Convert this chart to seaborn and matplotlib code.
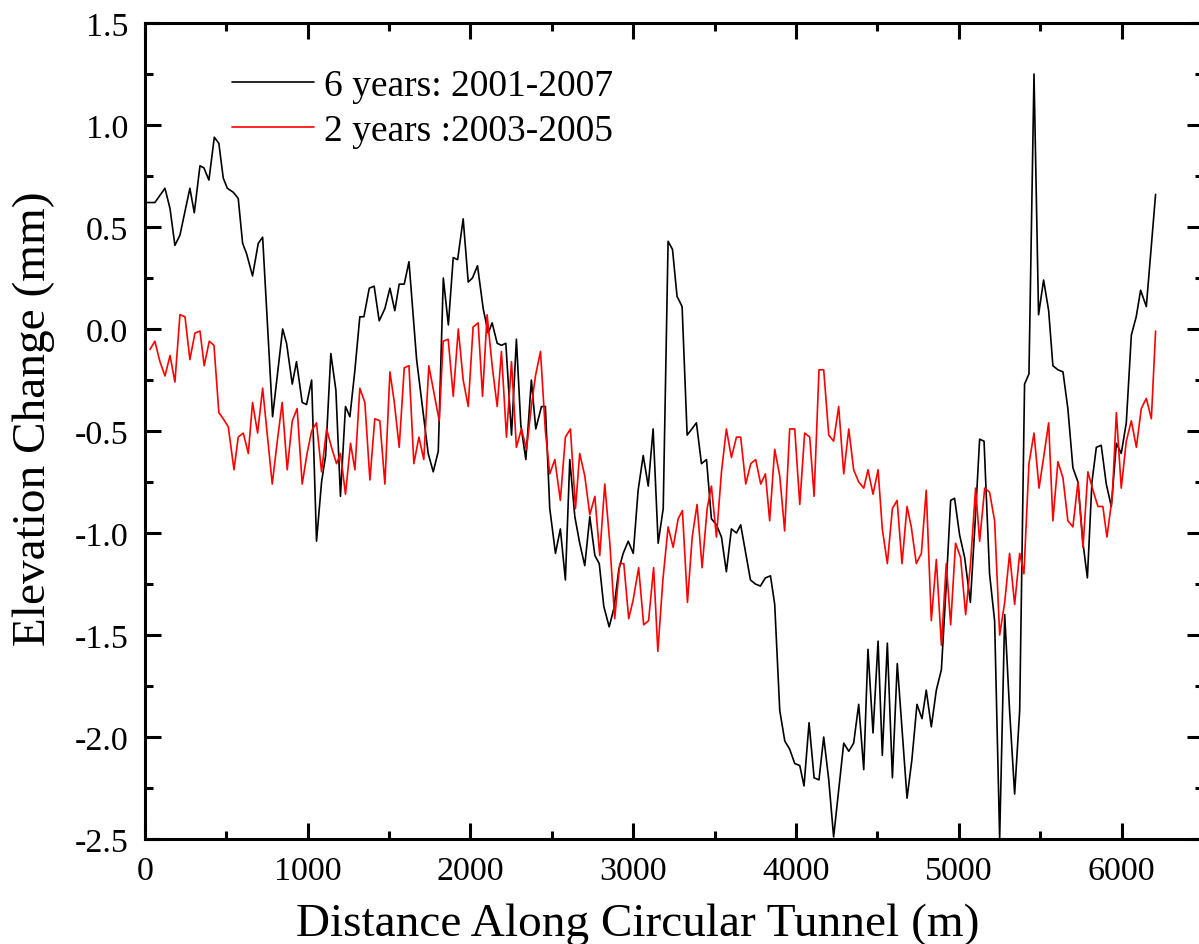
import matplotlib
matplotlib.use("Agg")
import matplotlib.pyplot as plt
import seaborn as sns
from matplotlib.ticker import MultipleLocator, AutoMinorLocator

# 6 years: 2001-2007 (black)
dist_6yr = [15, 31, 61, 123, 154, 184, 215, 276, 303, 338, 362, 393, 426, 454, 481, 506, 543, 573,
            600, 624, 661, 696, 723, 784, 846, 870, 905, 931, 966, 993, 1024, 1054, 1085, 1110,
            1142, 1173, 1201, 1232, 1259, 1290, 1320, 1345, 1378, 1408, 1439, 1474, 1505, 1535,
            1562, 1593, 1622, 1669, 1740, 1771, 1802, 1833, 1864, 1894, 1921, 1955, 1986, 2012,
            2043, 2078, 2109, 2133, 2164, 2190, 2217, 2252, 2282, 2309, 2340, 2374, 2401, 2436,
            2460, 2487, 2522, 2552, 2583, 2610, 2641, 2671, 2702, 2733, 2764, 2791, 2819, 2852,
            2881, 2911, 2938, 2969, 3000, 3030, 3061, 3092, 3122, 3153, 3184, 3214, 3241, 3269,
            3300, 3331, 3360, 3388, 3419, 3450, 3480, 3511, 3542, 3572, 3603, 3634, 3660, 3720,
            3750, 3781, 3812, 3843, 3869, 3900, 3931, 3961, 3992, 4023, 4049, 4080, 4111, 4141,
            4170, 4201, 4231, 4262, 4293, 4324, 4354, 4385, 4416, 4442, 4473, 4504, 4530, 4561,
            4592, 4622, 4651, 4682, 4712, 4743, 4774, 4800, 4831, 4862, 4893, 4923, 4950, 4974,
            5005, 5036, 5071, 5100, 5128, 5155, 5189, 5220, 5251, 5282, 5312, 5343, 5374, 5404,
            5431, 5462, 5490, 5521, 5552, 5578, 5609, 5640, 5670, 5701, 5732, 5763, 5790, 5818,
            5845, 5875, 5906, 5937, 5968, 5998, 6029, 6060, 6090, 6117, 6152, 6209]
elev_6yr = [0.62, 0.62, 0.62, 0.69, 0.59, 0.41, 0.46, 0.69, 0.57, 0.80, 0.79, 0.73, 0.94, 0.91,
            0.74, 0.69, 0.67, 0.64, 0.42, 0.37, 0.26, 0.42, 0.45, -0.43, 0.00, -0.07, -0.27, -0.16,
            -0.36, -0.37, -0.25, -1.04, -0.75, -0.62, -0.12, -0.30, -0.82, -0.38, -0.43, -0.20,
            0.06, 0.06, 0.20, 0.21, 0.04, 0.10, 0.20, 0.09, 0.22, 0.22, 0.33, -0.15, -0.61, -0.70,
            -0.60, 0.25, 0.02, 0.35, 0.34, 0.54, 0.23, 0.25, 0.31, 0.10, -0.02, 0.03, -0.07, -0.08,
            -0.07, -0.52, -0.05, -0.47, -0.64, -0.25, -0.49, -0.38, -0.38, -0.88, -1.10, -0.98,
            -1.23, -0.64, -0.92, -1.05, -1.16, -0.92, -1.11, -1.15, -1.36, -1.46, -1.37, -1.18,
            -1.10, -1.04, -1.10, -0.79, -0.62, -0.77, -0.49, -1.05, -0.88, 0.43, 0.39, 0.16, 0.11,
            -0.52, -0.49, -0.46, -0.66, -0.64, -0.93, -0.96, -1.02, -1.19, -0.98, -1.00, -0.96,
            -1.23, -1.25, -1.26, -1.22, -1.21, -1.35, -1.87, -2.02, -2.06, -2.13, -2.14, -2.24,
            -1.93, -2.20, -2.21, -2.00, -2.21, -2.49, -2.26, -2.03, -2.07, -2.03, -1.84, -2.16,
            -1.57, -1.98, -1.53, -2.09, -1.54, -2.20, -1.64, -1.96, -2.30, -2.11, -1.84, -1.91,
            -1.77, -1.95, -1.77, -1.67, -1.25, -0.84, -0.83, -1.01, -1.12, -1.34, -0.95, -0.54,
            -0.55, -1.20, -1.43, -2.50, -1.40, -1.87, -2.28, -1.87, -0.27, -0.22, 1.25, 0.07, 0.24,
            0.09, -0.18, -0.20, -0.21, -0.39, -0.68, -0.75, -1.05, -1.22, -0.75, -0.58, -0.57,
            -0.76, -0.87, -0.56, -0.61, -0.46, -0.03, 0.06, 0.19, 0.11, 0.66]

# 2 years: 2003-2005 (red)
dist_2yr = [31, 61, 92, 123, 154, 184, 215, 246, 276, 307, 338, 364, 395, 424, 454, 481, 512, 547,
            573, 604, 635, 661, 692, 723, 752, 782, 813, 843, 874, 905, 935, 966, 996, 1024, 1054,
            1085, 1116, 1146, 1177, 1201, 1232, 1263, 1290, 1320, 1351, 1382, 1412, 1443, 1474,
            1505, 1532, 1562, 1593, 1622, 1652, 1683, 1713, 1744, 1777, 1808, 1832, 1863, 1894,
            1925, 1955, 1986, 2016, 2047, 2074, 2102, 2133, 2164, 2190, 2221, 2252, 2282, 2313,
            2344, 2374, 2399, 2430, 2460, 2487, 2518, 2552, 2583, 2614, 2645, 2671, 2702, 2733,
            2764, 2794, 2825, 2856, 2886, 2917, 2942, 2972, 2999, 3033, 3064, 3094, 3125, 3151,
            3182, 3214, 3245, 3276, 3302, 3333, 3362, 3392, 3423, 3454, 3480, 3511, 3542, 3572,
            3603, 3634, 3660, 3691, 3722, 3752, 3783, 3812, 3838, 3869, 3900, 3930, 3961, 3992,
            4023, 4053, 4084, 4111, 4141, 4170, 4201, 4231, 4262, 4293, 4324, 4354, 4385, 4416,
            4442, 4473, 4504, 4530, 4561, 4592, 4621, 4651, 4682, 4708, 4739, 4770, 4800, 4831,
            4862, 4893, 4923, 4950, 4980, 5011, 5042, 5072, 5103, 5128, 5159, 5189, 5220, 5251,
            5282, 5312, 5343, 5374, 5400, 5431, 5462, 5493, 5521, 5552, 5578, 5609, 5640, 5670,
            5701, 5732, 5763, 5793, 5824, 5855, 5885, 5910, 5943, 5968, 5998, 6029, 6060, 6091,
            6121, 6152, 6183, 6209]
elev_2yr = [-0.10, -0.06, -0.16, -0.23, -0.13, -0.26, 0.07, 0.06, -0.15, -0.02, -0.01, -0.18,
            -0.06, -0.08, -0.41, -0.44, -0.48, -0.69, -0.53, -0.51, -0.61, -0.36, -0.51, -0.29,
            -0.52, -0.76, -0.55, -0.36, -0.69, -0.45, -0.39, -0.76, -0.61, -0.50, -0.46, -0.70,
            -0.49, -0.58, -0.66, -0.61, -0.81, -0.56, -0.69, -0.29, -0.36, -0.74, -0.44, -0.45,
            -0.76, -0.21, -0.36, -0.58, -0.19, -0.18, -0.66, -0.53, -0.64, -0.18, -0.32, -0.45,
            -0.06, -0.05, -0.33, 0.00, -0.25, -0.38, 0.01, 0.03, -0.33, 0.07, -0.18, -0.38, -0.11,
            -0.53, -0.16, -0.58, -0.49, -0.59, -0.38, -0.23, -0.11, -0.50, -0.71, -0.64, -0.84,
            -0.53, -0.49, -0.88, -0.61, -0.72, -0.91, -0.82, -1.11, -0.76, -1.05, -1.42, -1.15,
            -1.15, -1.42, -1.33, -1.17, -1.45, -1.43, -1.17, -1.58, -1.23, -0.97, -1.07, -0.93,
            -0.89, -1.34, -1.02, -0.86, -1.17, -0.88, -0.77, -1.02, -0.70, -0.49, -0.63, -0.53,
            -0.53, -0.76, -0.66, -0.64, -0.76, -0.71, -0.94, -0.59, -0.72, -0.99, -0.49, -0.49,
            -0.86, -0.51, -0.53, -0.82, -0.20, -0.20, -0.52, -0.55, -0.38, -0.71, -0.49, -0.69,
            -0.75, -0.78, -0.69, -0.81, -0.69, -0.98, -1.15, -0.88, -0.84, -1.15, -0.87, -0.97,
            -1.15, -1.10, -0.79, -1.43, -1.13, -1.55, -1.15, -1.45, -1.05, -1.12, -1.40, -1.15,
            -0.78, -1.04, -0.78, -0.80, -0.94, -1.50, -1.34, -1.10, -1.35, -1.10, -1.20, -0.66,
            -0.51, -0.78, -0.63, -0.46, -0.94, -0.65, -0.73, -0.94, -0.97, -0.75, -1.07, -0.70,
            -0.79, -0.87, -0.87, -1.02, -0.82, -0.41, -0.78, -0.55, -0.45, -0.58, -0.39, -0.34,
            -0.44, -0.01]

series_labels = ["6 years: 2001-2007", "2 years :2003-2005"]

sns.set_style("ticks")
plt.rcParams["font.family"] = ["Liberation Serif", "DejaVu Serif"]
plt.rcParams["axes.unicode_minus"] = False
for key in ["text.color", "axes.labelcolor", "xtick.color", "ytick.color", "axes.edgecolor"]:
    plt.rcParams[key] = "black"

fig = plt.figure(figsize=(11.99, 9.45), dpi=100)
ax = fig.add_axes([0.1209, 0.1111, 0.8824, 0.8635])

sns.lineplot(x=dist_6yr, y=elev_6yr, ax=ax, color="black", lw=1.2,
             label=series_labels[0], estimator=None, sort=False)
sns.lineplot(x=dist_2yr, y=elev_2yr, ax=ax, color="#ff0000", lw=1.2,
             label=series_labels[1], estimator=None, sort=False)

ax.set_xlim(0, 6500)
ax.set_ylim(-2.5, 1.5)
ax.xaxis.set_major_locator(MultipleLocator(1000))
ax.xaxis.set_minor_locator(AutoMinorLocator(2))
ax.yaxis.set_major_locator(MultipleLocator(0.5))
ax.yaxis.set_minor_locator(AutoMinorLocator(2))
ax.yaxis.set_major_formatter(matplotlib.ticker.FormatStrFormatter("%.1f"))

for s in ax.spines.values():
    s.set_linewidth(2.2)
    s.set_color("black")
    s.set_visible(True)
ax.tick_params(which="both", direction="in", top=True, right=True, width=2.2, colors="black")
ax.tick_params(which="major", length=11.5, labelsize=24.5, pad=12)
ax.tick_params(which="minor", length=5.8)

ax.set_xlabel("Distance Along Circular Tunnel (m)", fontsize=34)
ax.set_ylabel("Elevation Change (mm)", fontsize=34)
ax.xaxis.set_label_coords(0.466, -0.078)
ax.yaxis.set_label_coords(-0.085, 0.516)

ax.legend(loc="upper left", bbox_to_anchor=(0.082, 0.944), frameon=False,
          fontsize=27, handlelength=2.2, handletextpad=0.25, labelspacing=0.28,
          borderpad=0, borderaxespad=0)

fig.savefig("out.png", dpi=100)
